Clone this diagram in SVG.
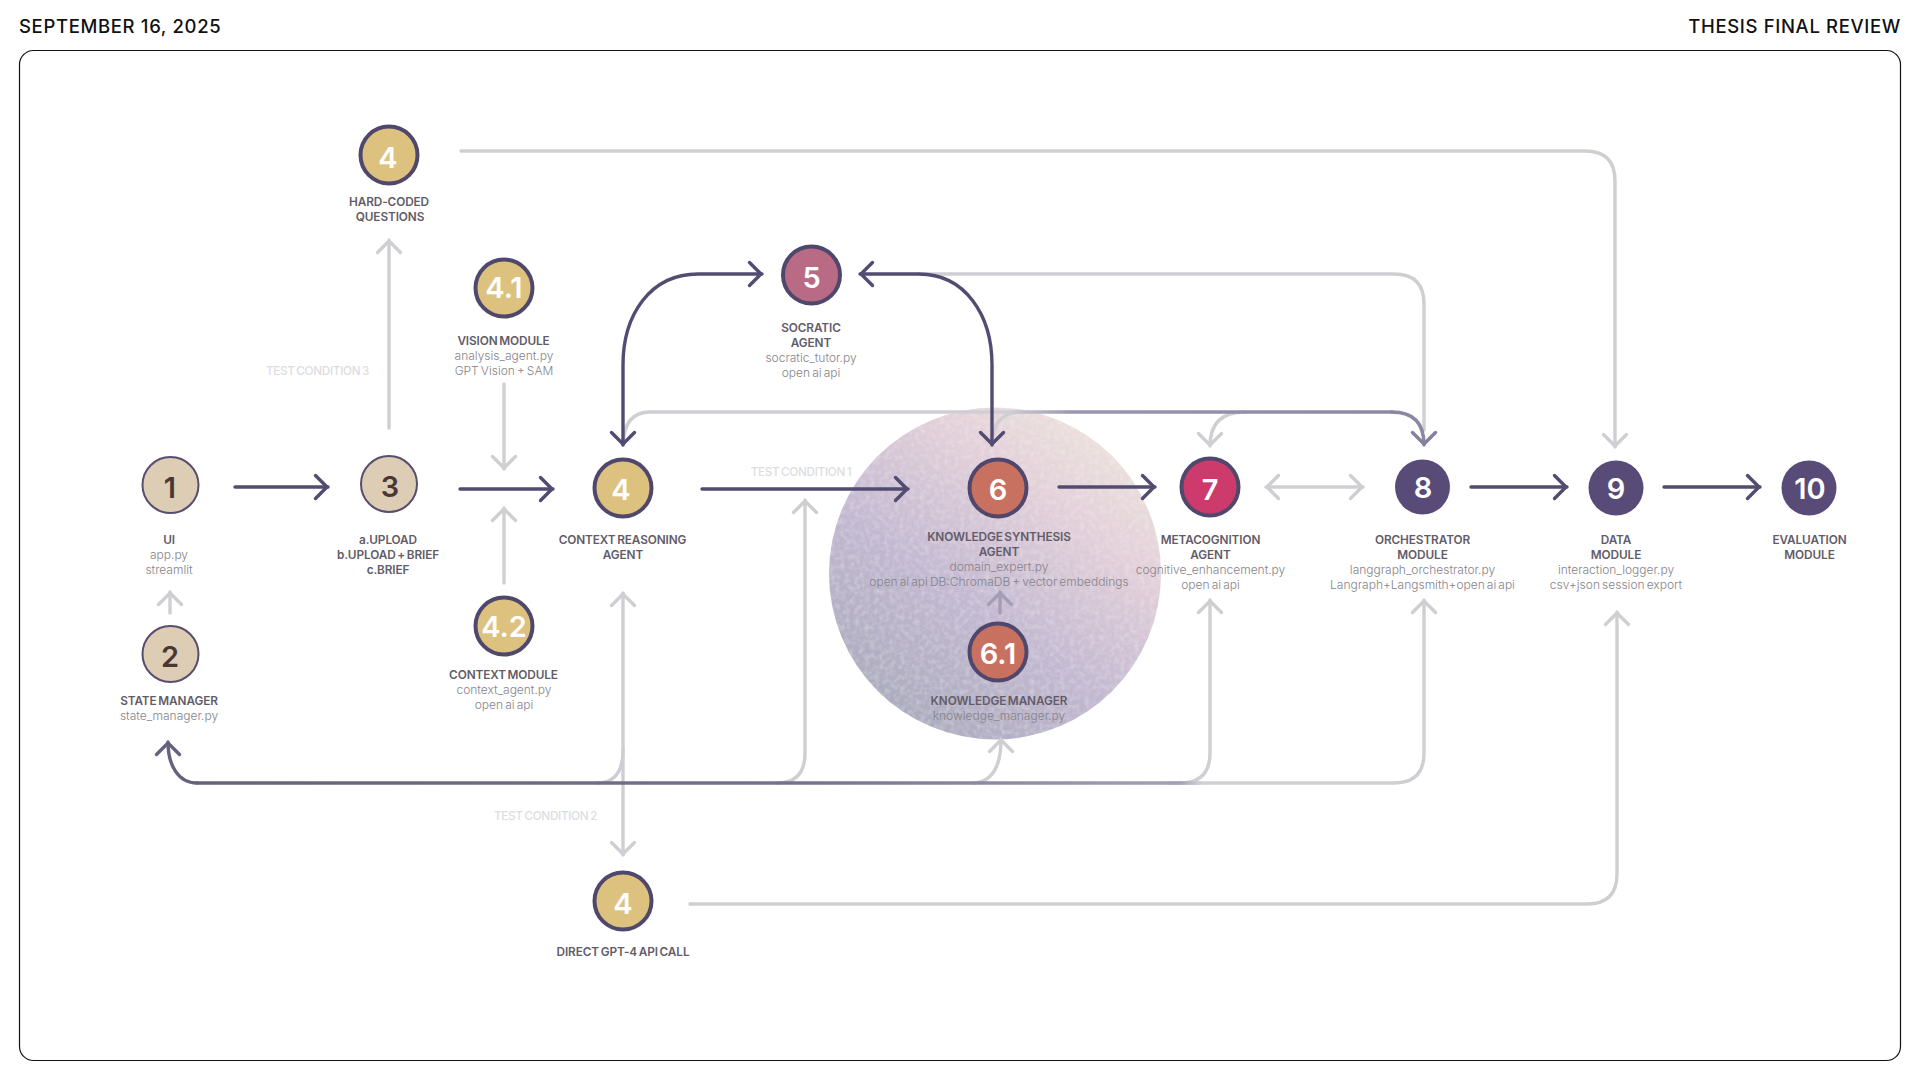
<svg xmlns="http://www.w3.org/2000/svg" width="1920" height="1080" viewBox="0 0 1920 1080">
<style>
text{font-family:"Inter","Liberation Sans",sans-serif;text-anchor:middle}
.hd{font-size:18.5px;font-weight:500;fill:#111;letter-spacing:.65px}
.t{font-size:11.8px;font-weight:600;fill:#625c68;letter-spacing:-.1px;word-spacing:-1.2px}
.s{font-size:12px;font-weight:300;fill:#85838a;letter-spacing:0;word-spacing:-1.3px}
.c{font-size:11.7px;font-weight:500;fill:#dddde0;letter-spacing:-.3px;word-spacing:-1px}
.n{font-size:29px;font-weight:600;fill:#fff}
.nd{fill:#4a3735}
.tan{fill:#dccdb4;stroke:#574e70;stroke-width:2}
.gold{fill:#dcc17f;stroke:#50486c;stroke-width:4}
.red{fill:#c97160;stroke:#50486c;stroke-width:4}
.mag{fill:#cd3a6c;stroke:#50486c;stroke-width:4}
.ros{fill:#b96b86;stroke:#50486c;stroke-width:4}
.pur{fill:#594b78}
.l{fill:none;stroke-width:3.4;stroke-linecap:round}
.k{stroke:#524c72;marker-end:url(#ak)}
.g{stroke:#cfcfd3;marker-end:url(#ag)}
.gn{stroke:#cfcfd3}
.kk{stroke:#524c72;marker-start:url(#akr);marker-end:url(#ak)}
</style>
<defs>
<marker id="ak" markerUnits="userSpaceOnUse" markerWidth="30" markerHeight="30" viewBox="-15 -15 30 30" refX="1" refY="0" orient="auto"><path d="M-11.5-11.5 0 0-11.5 11.5" fill="none" stroke="#524c72" stroke-width="3.4" stroke-linecap="round" stroke-linejoin="round"/></marker>
<marker id="akr" markerUnits="userSpaceOnUse" markerWidth="30" markerHeight="30" viewBox="-15 -15 30 30" refX="1" refY="0" orient="auto-start-reverse"><path d="M-11.5-11.5 0 0-11.5 11.5" fill="none" stroke="#524c72" stroke-width="3.4" stroke-linecap="round" stroke-linejoin="round"/></marker>
<marker id="ag" markerUnits="userSpaceOnUse" markerWidth="30" markerHeight="30" viewBox="-15 -15 30 30" refX="1" refY="0" orient="auto"><path d="M-11.5-11.5 0 0-11.5 11.5" fill="none" stroke="#cfcfd3" stroke-width="3.4" stroke-linecap="round" stroke-linejoin="round"/></marker>
<marker id="agr" markerUnits="userSpaceOnUse" markerWidth="30" markerHeight="30" viewBox="-15 -15 30 30" refX="1" refY="0" orient="auto-start-reverse"><path d="M-11.5-11.5 0 0-11.5 11.5" fill="none" stroke="#cfcfd3" stroke-width="3.4" stroke-linecap="round" stroke-linejoin="round"/></marker>
<marker id="am" markerUnits="userSpaceOnUse" markerWidth="30" markerHeight="30" viewBox="-15 -15 30 30" refX="1" refY="0" orient="auto"><path d="M-11.5-11.5 0 0-11.5 11.5" fill="none" stroke="#85809c" stroke-width="3.4" stroke-linecap="round" stroke-linejoin="round"/></marker>
<marker id="ab" markerUnits="userSpaceOnUse" markerWidth="30" markerHeight="30" viewBox="-15 -15 30 30" refX="1" refY="0" orient="auto"><path d="M-11.5-11.5 0 0-11.5 11.5" fill="none" stroke="#66627c" stroke-width="3.4" stroke-linecap="round" stroke-linejoin="round"/></marker>
<marker id="ap" markerUnits="userSpaceOnUse" markerWidth="30" markerHeight="30" viewBox="-15 -15 30 30" refX="1" refY="0" orient="auto"><path d="M-11.5-11.5 0 0-11.5 11.5" fill="none" stroke="#a39eb6" stroke-width="3.4" stroke-linecap="round" stroke-linejoin="round"/></marker>
<linearGradient id="blob" x1="0.15" y1="0.95" x2="0.8" y2="0.05">
<stop offset="0" stop-color="#a9aabb"/><stop offset=".4" stop-color="#c2b8d1"/><stop offset=".75" stop-color="#e2cfd9"/><stop offset="1" stop-color="#ece2dd"/>
</linearGradient>
<linearGradient id="busB" gradientUnits="userSpaceOnUse" x1="197" y1="0" x2="1200" y2="0">
<stop offset="0" stop-color="#66627c"/><stop offset=".6" stop-color="#76728e"/><stop offset=".98" stop-color="#a5a1b8"/><stop offset="1" stop-color="#cfcfd3"/>
</linearGradient>
<linearGradient id="busT" gradientUnits="userSpaceOnUse" x1="1010" y1="0" x2="1424" y2="0">
<stop offset="0" stop-color="#cfcfd3"/><stop offset=".15" stop-color="#9a95b0"/><stop offset="1" stop-color="#8b87a2"/>
</linearGradient>
<filter id="grain" x="0" y="0" width="100%" height="100%">
<feTurbulence type="fractalNoise" baseFrequency=".2" numOctaves="2" seed="4"/>
<feColorMatrix type="matrix" values="0 0 0 0 1 0 0 0 0 1 0 0 0 0 1 0 0 0 .5 -.2"/>
<feComposite in2="SourceGraphic" operator="in"/>
<feMerge><feMergeNode in="SourceGraphic"/><feMergeNode/></feMerge>
</filter>
</defs>
<rect width="1920" height="1080" fill="#fff"/>
<g id="header">
<text class="hd" x="19" y="33" style="text-anchor:start">SEPTEMBER 16, 2025</text>
<text class="hd" x="1901" y="33" style="text-anchor:end">THESIS FINAL REVIEW</text>
</g>
<rect id="frame" x="19.5" y="50.5" width="1881" height="1010" rx="14" fill="none" stroke="#111" stroke-width="1.2"/>
<circle id="blob-bg" cx="995" cy="573.5" r="166" fill="url(#blob)" filter="url(#grain)"/>
<g id="connectors">
<path class="l g" d="M461 151H1585Q1615 151 1615 181V447"/>
<path class="l g" d="M389 428V240"/>
<path class="l g" d="M504 384V469"/>
<path class="l g" d="M504 583V508"/>
<path class="l g" d="M170 613V592"/>
<path class="l g" d="M623 593V855" style="marker-start:url(#agr)"/>
<path class="l gn" d="M623 750Q623 783 597 783"/>
<path class="l g" d="M777 783Q805 783 805 753V500"/>
<path class="l g" d="M974 783Q1001 781 1001 739"/>
<path class="l g" d="M1170 783H1180Q1210 783 1210 753V600"/>
<path class="l g" d="M1170 783H1394Q1424 783 1424 753V600"/>
<path class="l g" d="M690 904H1587Q1617 904 1617 874V612"/>
<path class="l gn" d="M919 274H1394Q1424 274 1424 304V430"/>
<path class="l gn" d="M623 445Q624 412 650 412H1030"/>
<path class="l g" d="M1019 412Q992 414 992 445"/>
<path class="l g" d="M1245 412Q1210 412 1210 446"/>
<path class="l" stroke="url(#busT)" d="M1010 412H1392"/>
<path class="l" stroke="#8b87a2" style="marker-end:url(#am)" d="M1392 412Q1424 412 1424 445"/>
<path class="l" stroke="url(#busB)" d="M1200 783H197"/>
<path class="l" stroke="#66627c" d="M197 783C178 783 168 765 168 742" style="marker-end:url(#ab)"/>
<path class="l" stroke="#a39eb6" style="marker-end:url(#ap)" d="M1000 613V592"/>
<path class="l k" d="M235 487H328"/>
<path class="l k" d="M460 489H553"/>
<path class="l k" d="M702 489H908"/>
<path class="l k" d="M1059 487H1155"/>
<path class="l k" d="M1471 487H1567"/>
<path class="l k" d="M1664 487H1760"/>
<path class="l g" d="M1266 487H1363" style="marker-start:url(#agr)"/>
<path class="l kk" d="M762 274H698C650 274 623 315 623 365V445"/>
<path class="l kk" d="M860 274H919C965 274 992 315 992 365V445"/>
</g>
<g id="n-4-hard"><circle class="gold" cx="389" cy="155" r="28.5"/><text class="n" x="388" y="168">4</text><text class="t" x="389" y="206">HARD-CODED</text><text class="t" x="390" y="221">QUESTIONS</text></g>
<g id="n-4-1"><circle class="gold" cx="504" cy="288" r="28.5"/><text class="n" x="504" y="298">4.1</text><text class="t" x="503.5" y="344.5">VISION MODULE</text><text class="s" x="504" y="360">analysis_agent.py</text><text class="s" x="504" y="374.5">GPT Vision + SAM</text></g>
<g id="n-1"><circle class="tan" cx="170.5" cy="485" r="28"/><text class="n nd" x="170" y="498">1</text><text class="t" x="169" y="543.5">UI</text><text class="s" x="169" y="559">app.py</text><text class="s" x="169" y="574">streamlit</text></g>
<g id="n-2"><circle class="tan" cx="170.5" cy="654" r="28"/><text class="n nd" x="170" y="667">2</text><text class="t" x="169" y="705">STATE MANAGER</text><text class="s" x="169" y="720">state_manager.py</text></g>
<g id="n-3"><circle class="tan" cx="389" cy="484" r="28"/><text class="n nd" x="390" y="497">3</text><text class="t" x="388" y="543.5">a.UPLOAD</text><text class="t" x="388" y="558.5">b.UPLOAD + BRIEF</text><text class="t" x="388" y="573.5">c.BRIEF</text></g>
<g id="n-4-2"><circle class="gold" cx="504" cy="626" r="28.5"/><text class="n" x="504" y="637">4.2</text><text class="t" x="503.5" y="678.5">CONTEXT MODULE</text><text class="s" x="504" y="694">context_agent.py</text><text class="s" x="504" y="709">open ai api</text></g>
<g id="n-4-context"><circle class="gold" cx="623" cy="488" r="28.5"/><text class="n" x="621" y="500">4</text><text class="t" x="622.5" y="543.5">CONTEXT REASONING</text><text class="t" x="623" y="558.5">AGENT</text></g>
<g id="n-4-direct"><circle class="gold" cx="623" cy="901" r="28.5"/><text class="n" x="623" y="914">4</text><text class="t" x="623" y="955.5">DIRECT GPT-4 API CALL</text></g>
<g id="n-5"><circle class="ros" cx="811.5" cy="275" r="28.5"/><text class="n" x="811.5" y="288">5</text><text class="t" x="811" y="331.5">SOCRATIC</text><text class="t" x="811" y="346.5">AGENT</text><text class="s" x="811" y="362">socratic_tutor.py</text><text class="s" x="811" y="377">open ai api</text></g>
<g id="n-6"><circle class="red" cx="998" cy="488" r="28.5"/><text class="n" x="998" y="500">6</text><text class="t" x="999" y="540.5">KNOWLEDGE SYNTHESIS</text><text class="t" x="999" y="555.5">AGENT</text><text class="s" x="999" y="571">domain_expert.py</text><text class="s" x="999" y="586">open ai api DB:ChromaDB + vector embeddings</text></g>
<g id="n-6-1"><circle class="red" cx="998" cy="652" r="28.5"/><text class="n" x="998" y="664">6.1</text><text class="t" x="999" y="705">KNOWLEDGE MANAGER</text><text class="s" x="999" y="720">knowledge_manager.py</text></g>
<g id="n-7"><circle class="mag" cx="1210" cy="487" r="28.5"/><text class="n" x="1210" y="500">7</text><text class="t" x="1210.5" y="543.5">METACOGNITION</text><text class="t" x="1210.5" y="558.5">AGENT</text><text class="s" x="1210.5" y="574">cognitive_enhancement.py</text><text class="s" x="1210.5" y="589">open ai api</text></g>
<g id="n-8"><circle class="pur" cx="1422.5" cy="487" r="27.5"/><text class="n" x="1423" y="498">8</text><text class="t" x="1422.5" y="543.5">ORCHESTRATOR</text><text class="t" x="1422.5" y="558.5">MODULE</text><text class="s" x="1422.5" y="574">langgraph_orchestrator.py</text><text class="s" x="1422.5" y="589">Langraph+Langsmith+open ai api</text></g>
<g id="n-9"><circle class="pur" cx="1616" cy="488" r="27.5"/><text class="n" x="1616" y="499">9</text><text class="t" x="1616" y="543.5">DATA</text><text class="t" x="1616" y="558.5">MODULE</text><text class="s" x="1616" y="574">interaction_logger.py</text><text class="s" x="1616" y="589">csv+json session export</text></g>
<g id="n-10"><circle class="pur" cx="1809" cy="488" r="27.5"/><text class="n" x="1810" y="499">10</text><text class="t" x="1809.5" y="543.5">EVALUATION</text><text class="t" x="1809.5" y="558.5">MODULE</text></g>
<g id="labels">
<text class="c" x="317.5" y="375">TEST CONDITION 3</text>
<text class="c" x="801" y="476">TEST CONDITION 1</text>
<text class="c" x="545.5" y="820">TEST CONDITION 2</text>
</g>
</svg>
